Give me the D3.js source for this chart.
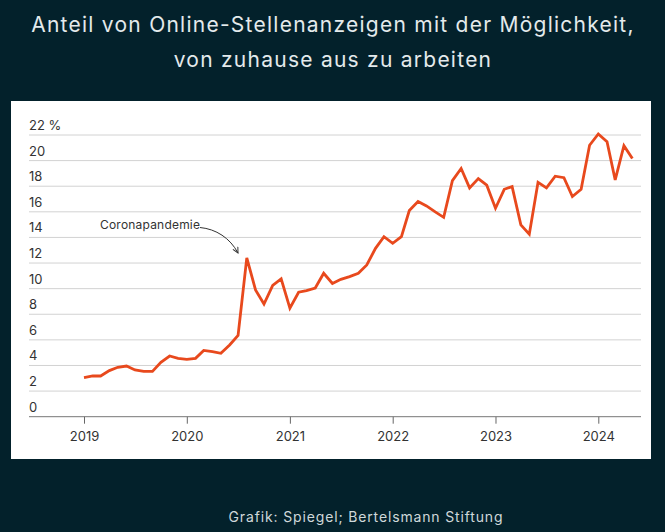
<!DOCTYPE html>
<html>
<head>
<meta charset="utf-8">
<script src="https://cdn.jsdelivr.net/npm/d3@7"></script>
<style>
  html, body { margin: 0; padding: 0; background: #03212b; }
  svg { display: block; }
</style>
</head>
<body>
<svg id="chart" width="665" height="532"></svg>
<script>
// monthly share (%) of online job ads offering home office, Jan 2019 - May 2024
const startMonth = new Date(2019, 0, 1);
const shares = [
  3.05, 3.18, 3.18, 3.6, 3.86, 3.96, 3.65, 3.54, 3.54, 4.25, 4.74, 4.56,
  4.48, 4.56, 5.18, 5.08, 4.95, 5.6, 6.35, 12.4, 9.9, 8.8, 10.26, 10.76,
  8.47, 9.72, 9.85, 10.05, 11.2, 10.4, 10.73, 10.94, 11.2, 11.85, 13.15, 14.06,
  13.54, 14.06, 16.1, 16.8, 16.46, 15.99, 15.57, 18.44, 19.38, 17.87, 18.6, 18.08,
  16.28, 17.76, 17.97, 14.98, 14.25, 18.31, 17.87, 18.78, 18.67, 17.19, 17.76, 21.2,
  22.08, 21.48, 18.49, 21.17, 20.16
];
const yTicks = [0, 2, 4, 6, 8, 10, 12, 14, 16, 18, 20, 22];
const xYears = [2019, 2020, 2021, 2022, 2023, 2024];

const data = shares.map((v, i) => ({
  date: new Date(startMonth.getFullYear(), startMonth.getMonth() + i, 1),
  value: v
}));

const svg = d3.select("#chart");

// title
const titleLines = [
  "Anteil von Online-Stellenanzeigen mit der Möglichkeit,",
  "von zuhause aus zu arbeiten"
];
svg.append("g")
  .selectAll("text")
  .data(titleLines)
  .join("text")
  .attr("x", 333).attr("y", (d, i) => 32 + i * 35)
  .attr("text-anchor", "middle")
  .attr("fill", "#e4eaec")
  .style("font", "21px Inter, sans-serif")
  .style("letter-spacing", "1.25px")
  .text(d => d);

// white panel
svg.append("rect")
  .attr("x", 11).attr("y", 101)
  .attr("width", 640).attr("height", 358)
  .attr("fill", "#ffffff");

const plotLeft = 29, plotRight = 641, plotTop = 135, plotBottom = 416.7;

const xs = d3.scaleTime()
  .domain([new Date(2019, 0, 1), new Date(2024, 0, 1)])
  .range([84, 598.3]);

const y = d3.scaleLinear().domain([0, 22]).range([plotBottom, plotTop]);

// gridlines
svg.append("g")
  .selectAll("line")
  .data(yTicks.filter(d => d > 0))
  .join("line")
  .attr("x1", plotLeft).attr("x2", plotRight)
  .attr("y1", d => y(d)).attr("y2", d => y(d))
  .attr("stroke", "#d2d2d2")
  .attr("stroke-width", 1);

// y labels sit above gridlines
svg.append("g")
  .selectAll("text")
  .data(yTicks)
  .join("text")
  .attr("x", plotLeft)
  .attr("y", d => y(d) - 5)
  .attr("fill", "#333")
  .style("font", "13px Inter, sans-serif")
  .text(d => d === 22 ? "22 %" : d);

// x axis
const xAxis = d3.axisBottom(xs)
  .tickValues(xYears.map(yr => new Date(yr, 0, 1)))
  .tickFormat(d3.timeFormat("%Y"))
  .tickSize(7)
  .tickPadding(8);

const gx = svg.append("g")
  .attr("transform", `translate(0,${plotBottom})`)
  .call(xAxis);
gx.select(".domain").remove();
gx.selectAll(".tick line").attr("stroke", "#666");
gx.selectAll(".tick text")
  .attr("fill", "#333")
  .style("font", "13px Inter, sans-serif");
svg.append("line")
  .attr("x1", plotLeft).attr("x2", plotRight)
  .attr("y1", plotBottom).attr("y2", plotBottom)
  .attr("stroke", "#777").attr("stroke-width", 1);

// line
const line = d3.line()
  .x(d => xs(d.date))
  .y(d => y(d.value));

svg.append("path")
  .datum(data)
  .attr("fill", "none")
  .attr("stroke", "#e8491d")
  .attr("stroke-width", 2.8)
  .attr("stroke-linejoin", "miter")
  .attr("d", line);

// annotation
svg.append("defs").append("marker")
  .attr("id", "arrow")
  .attr("viewBox", "0 0 10 10")
  .attr("refX", 9).attr("refY", 5)
  .attr("markerWidth", 7).attr("markerHeight", 7)
  .attr("orient", "auto")
  .append("path")
  .attr("d", "M1,1 L9,5 L1,9")
  .attr("fill", "none")
  .attr("stroke", "#333")
  .attr("stroke-width", 1.4);

svg.append("text")
  .attr("x", 100).attr("y", 228.5)
  .attr("fill", "#333")
  .style("font", "12px Inter, sans-serif")
  .style("letter-spacing", "0.2px")
  .text("Coronapandemie");

svg.append("path")
  .attr("d", "M200,227.5 C216,229 230,238 238,253")
  .attr("fill", "none")
  .attr("stroke", "#333")
  .attr("stroke-width", 1)
  .attr("marker-end", "url(#arrow)");

// source
svg.append("text")
  .attr("x", 366).attr("y", 522)
  .attr("text-anchor", "middle")
  .attr("fill", "#cfd8da")
  .style("font", "14px Inter, sans-serif")
  .style("letter-spacing", "0.85px")
  .text("Grafik: Spiegel; Bertelsmann Stiftung");
</script>
</body>
</html>
